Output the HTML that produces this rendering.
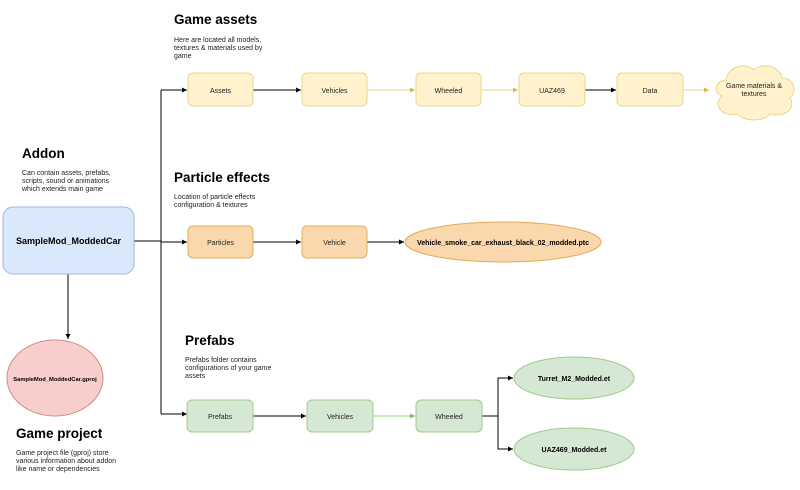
<!DOCTYPE html>
<html><head><meta charset="utf-8"><style>
body{margin:0;background:#fff;}
svg{display:block;font-family:"Liberation Sans",Arial,sans-serif;}
.t{font-size:7px;fill:#222;}
.h{font-size:13.5px;font-weight:bold;fill:#000;}
.d{font-size:7px;fill:#222;}
.b{font-size:7.5px;font-weight:bold;fill:#000;}
</style></head><body>
<svg width="800" height="490" viewBox="0 0 800 490">
<defs>
<marker id="ak" markerWidth="6" markerHeight="6" refX="5" refY="3" orient="auto" markerUnits="userSpaceOnUse"><path d="M0,0.5 L5,3 L0,5.5 Z" fill="#000"/></marker>
<marker id="ay" markerWidth="6" markerHeight="6" refX="5" refY="3" orient="auto" markerUnits="userSpaceOnUse"><path d="M0,0.5 L5,3 L0,5.5 Z" fill="#d6b656"/></marker>
<marker id="ag" markerWidth="6" markerHeight="6" refX="5" refY="3" orient="auto" markerUnits="userSpaceOnUse"><path d="M0,0.5 L5,3 L0,5.5 Z" fill="#82b366"/></marker>
</defs>
<text x="174" y="24" class="h">Game assets</text>
<text x="174" y="42" class="d">Here are located all models,</text>
<text x="174" y="50" class="d">textures &amp; materials used by</text>
<text x="174" y="58" class="d">game</text>
<text x="22" y="158" class="h">Addon</text>
<text x="22" y="175" class="d">Can contain assets, prefabs,</text>
<text x="22" y="183" class="d">scripts, sound or animations</text>
<text x="22" y="191" class="d">which extends main game</text>
<text x="174" y="182" class="h">Particle effects</text>
<text x="174" y="199" class="d">Location of particle effects</text>
<text x="174" y="207" class="d">configuration &amp; textures</text>
<text x="185" y="345" class="h">Prefabs</text>
<text x="185" y="362" class="d">Prefabs folder contains</text>
<text x="185" y="370" class="d">configurations of your game</text>
<text x="185" y="378" class="d">assets</text>
<text x="16" y="438" class="h">Game project</text>
<text x="16" y="455" class="d">Game project file (gproj) store</text>
<text x="16" y="463" class="d">various information about addon</text>
<text x="16" y="471" class="d">like name or dependencies</text>
<g fill="none" stroke-width="1">
<path d="M134,241 H161 M161,90 V414" stroke="#000"/>
<path d="M161,90 H187" stroke="#000" marker-end="url(#ak)"/>
<path d="M161,242 H187" stroke="#000" marker-end="url(#ak)"/>
<path d="M161,414 H187" stroke="#000" marker-end="url(#ak)"/>
<path d="M68,274 V339" stroke="#000" marker-end="url(#ak)"/>
<path d="M253,90 H301" stroke="#000" marker-end="url(#ak)"/>
<path d="M367,90 H415" stroke="#e8d28a" marker-end="url(#ay)"/>
<path d="M481,90 H518" stroke="#e8d28a" marker-end="url(#ay)"/>
<path d="M585,90 H616" stroke="#000" marker-end="url(#ak)"/>
<path d="M683,90 H709" stroke="#e8d28a" marker-end="url(#ay)"/>
<path d="M253,242 H301" stroke="#000" marker-end="url(#ak)"/>
<path d="M367,242 H404" stroke="#000" marker-end="url(#ak)"/>
<path d="M253,416 H306" stroke="#000" marker-end="url(#ak)"/>
<path d="M373,416 H415" stroke="#97d077" marker-end="url(#ag)"/>
<path d="M482,416 H498 V378 H513 M498,416 V449 H513" stroke="#000"/>
<path d="M505,378 H513" stroke="#000" marker-end="url(#ak)"/>
<path d="M505,449 H513" stroke="#000" marker-end="url(#ak)"/>
</g>
<g stroke-width="1">
<rect x="3" y="207" width="131" height="67" rx="10" fill="#dae8fc" stroke="#9fb8de"/>
<text x="68.5" y="244" class="b" style="font-size:9px" text-anchor="middle">SampleMod_ModdedCar</text>
<ellipse cx="55" cy="378" rx="48" ry="38" fill="#f8cecc" stroke="#d08a88"/>
<text x="55" y="381" class="b" style="font-size:5.8px" text-anchor="middle">SampleMod_ModdedCar.gproj</text>
<g fill="#fff2cc" stroke="#ead68f">
<rect x="188" y="73" width="65" height="33" rx="5"/>
<rect x="302" y="73" width="65" height="33" rx="5"/>
<rect x="416" y="73" width="65" height="33" rx="5"/>
<rect x="519" y="73" width="66" height="33" rx="5"/>
<rect x="617" y="73" width="66" height="33" rx="5"/>
<path d="M726,80 C716,80 712,92 722,96 C712,104 722,118 738,114 C744,122 764,122 770,114 C786,118 796,108 790,98 C798,92 794,78 782,78 C780,66 762,62 754,70 C746,62 728,66 726,80 Z"/>
</g>
<g class="t" text-anchor="middle">
<text x="220.5" y="93">Assets</text>
<text x="334.5" y="93">Vehicles</text>
<text x="448.5" y="93">Wheeled</text>
<text x="552" y="93">UAZ469</text>
<text x="650" y="93">Data</text>
<text x="754" y="88">Game materials &amp;</text>
<text x="754" y="96">textures</text>
</g>
<g fill="#fad7ac" stroke="#e0ac5a">
<rect x="188" y="226" width="65" height="32" rx="5"/>
<rect x="302" y="226" width="65" height="32" rx="5"/>
<ellipse cx="503" cy="242" rx="98" ry="20"/>
</g>
<text x="220.5" y="245" class="t" text-anchor="middle">Particles</text>
<text x="334.5" y="245" class="t" text-anchor="middle">Vehicle</text>
<text x="503" y="245" class="b" style="font-size:7px" text-anchor="middle">Vehicle_smoke_car_exhaust_black_02_modded.ptc</text>
<g fill="#d5e8d4" stroke="#a3c98e">
<rect x="187" y="400" width="66" height="32" rx="5"/>
<rect x="307" y="400" width="66" height="32" rx="5"/>
<rect x="416" y="400" width="66" height="32" rx="5"/>
<ellipse cx="574" cy="378" rx="60" ry="21"/>
<ellipse cx="574" cy="449" rx="60" ry="21"/>
</g>
<text x="220" y="419" class="t" text-anchor="middle">Prefabs</text>
<text x="340" y="419" class="t" text-anchor="middle">Vehicles</text>
<text x="449" y="419" class="t" text-anchor="middle">Wheeled</text>
<text x="574" y="381" class="b" style="font-size:7px" text-anchor="middle">Turret_M2_Modded.et</text>
<text x="574" y="452" class="b" style="font-size:7px" text-anchor="middle">UAZ469_Modded.et</text>
</g>
</svg>
</body></html>
